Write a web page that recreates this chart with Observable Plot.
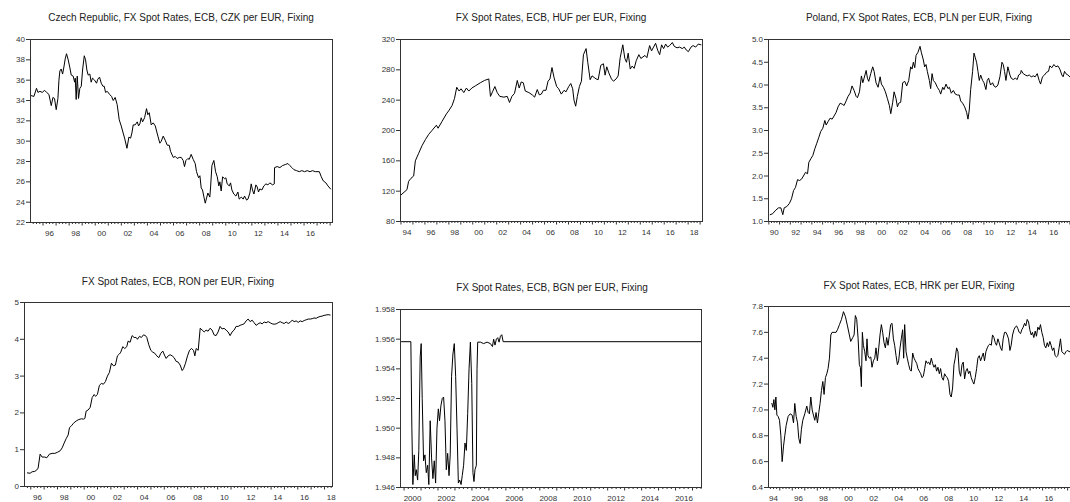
<!DOCTYPE html>
<html><head><meta charset="utf-8">
<script src="https://cdn.jsdelivr.net/npm/d3@7"></script>
<script src="https://cdn.jsdelivr.net/npm/@observablehq/plot@0.6"></script>
<style>
html,body{margin:0;padding:0;background:#fff;overflow:hidden;width:1070px;height:502px;}
#root{position:relative;width:1070px;height:502px;overflow:hidden;font-family:"Liberation Sans",Arial,sans-serif;}
.title{position:absolute;font-size:10px;line-height:12px;color:#222;white-space:nowrap;transform:translateX(-50%);}
</style></head><body><div id="root"></div>
<script>
// ---- Data: [decimal year, rate] ----
const czk = [[1995.04,34.5],[1995.30,34.4],[1995.50,35.2],[1995.61,34.8],[1995.76,34.9],[1995.94,34.8],[1996.12,35.0],[1996.27,34.8],[1996.45,34.6],[1996.63,33.5],[1996.76,34.3],[1996.88,34.2],[1997.01,33.1],[1997.14,34.2],[1997.22,36.0],[1997.29,36.9],[1997.39,37.1],[1997.50,36.6],[1997.60,37.3],[1997.70,38.1],[1997.80,38.6],[1997.93,38.0],[1998.06,37.2],[1998.16,36.5],[1998.31,36.4],[1998.42,35.8],[1998.47,36.2],[1998.54,34.1],[1998.62,36.4],[1998.72,34.2],[1998.82,35.2],[1998.93,35.4],[1999.03,37.0],[1999.16,38.4],[1999.26,38.0],[1999.36,37.0],[1999.46,36.5],[1999.59,36.6],[1999.69,35.8],[1999.79,36.2],[1999.95,36.0],[2000.10,35.7],[2000.20,36.1],[2000.33,36.3],[2000.46,35.7],[2000.59,35.4],[2000.69,35.4],[2000.79,34.8],[2000.92,34.9],[2001.10,34.6],[2001.25,34.4],[2001.38,34.0],[2001.53,34.3],[2001.68,33.6],[2001.84,32.1],[2001.99,31.5],[2002.14,30.8],[2002.25,30.3],[2002.43,29.3],[2002.58,30.4],[2002.71,30.3],[2002.81,30.8],[2002.91,31.6],[2003.06,31.6],[2003.22,31.9],[2003.32,31.5],[2003.42,31.7],[2003.52,32.3],[2003.63,31.9],[2003.78,32.3],[2003.93,33.2],[2004.03,32.6],[2004.14,32.8],[2004.29,31.6],[2004.44,31.8],[2004.60,31.5],[2004.80,30.5],[2004.95,29.8],[2005.06,30.0],[2005.21,30.5],[2005.36,30.1],[2005.52,29.6],[2005.67,29.6],[2005.77,29.0],[2005.98,28.4],[2006.13,28.5],[2006.28,28.3],[2006.44,28.4],[2006.59,28.4],[2006.74,28.1],[2006.84,27.5],[2006.95,28.1],[2007.10,28.3],[2007.20,28.2],[2007.35,28.7],[2007.51,28.2],[2007.66,27.8],[2007.76,27.0],[2007.92,26.4],[2008.02,26.6],[2008.12,25.4],[2008.22,25.2],[2008.33,24.5],[2008.43,23.9],[2008.53,24.4],[2008.63,24.9],[2008.78,24.5],[2008.84,25.5],[2008.94,27.6],[2009.09,28.1],[2009.22,27.0],[2009.35,26.5],[2009.47,25.6],[2009.55,26.0],[2009.65,25.1],[2009.76,26.5],[2009.91,26.3],[2010.01,26.4],[2010.11,25.8],[2010.27,25.6],[2010.37,25.9],[2010.47,25.2],[2010.62,24.8],[2010.78,24.6],[2010.93,25.0],[2011.03,24.3],[2011.19,24.5],[2011.34,24.3],[2011.44,24.6],[2011.60,24.2],[2011.70,24.3],[2011.85,24.9],[2011.95,25.8],[2012.05,25.2],[2012.16,24.8],[2012.31,25.7],[2012.41,25.5],[2012.51,25.0],[2012.61,25.3],[2012.77,25.2],[2012.92,25.6],[2013.08,25.8],[2013.23,25.7],[2013.38,25.9],[2013.59,25.7],[2013.72,25.8],[2013.74,27.4],[2013.94,27.5],[2014.15,27.4],[2014.35,27.6],[2014.56,27.7],[2014.76,27.8],[2014.91,27.6],[2015.07,27.4],[2015.22,27.2],[2015.43,27.1],[2015.63,27.0],[2015.83,27.1],[2016.04,27.0],[2016.24,27.1],[2016.45,27.0],[2016.65,27.1],[2016.86,27.0],[2017.17,27.0],[2017.32,26.5],[2017.47,26.1],[2017.67,25.9],[2017.83,25.6],[2018.03,25.3]];

const huf = [[1994.00,115],[1994.50,122],[1994.64,133],[1994.84,137],[1995.06,140],[1995.20,160],[1995.48,170],[1995.76,180],[1996.04,188],[1996.32,195],[1996.59,200],[1996.96,207],[1997.10,203],[1997.43,212],[1997.80,222],[1997.99,226],[1998.27,233],[1998.47,242],[1998.66,257],[1998.86,252],[1999.02,255],[1999.25,250],[1999.47,256],[1999.67,252],[1999.92,256],[2000.23,259],[2000.64,263],[2000.98,266],[2001.34,268],[2001.48,245],[2001.65,251],[2001.85,258],[2002.04,250],[2002.26,245],[2002.60,244],[2002.88,245],[2003.07,237],[2003.27,245],[2003.49,249],[2003.72,266],[2003.88,256],[2004.05,264],[2004.22,263],[2004.39,252],[2004.69,250],[2004.97,247],[2005.17,244],[2005.39,254],[2005.56,247],[2005.73,248],[2005.90,253],[2006.12,253],[2006.29,265],[2006.45,268],[2006.62,283],[2006.79,270],[2007.01,258],[2007.18,255],[2007.40,248],[2007.63,253],[2007.79,251],[2008.02,258],[2008.19,262],[2008.35,255],[2008.46,240],[2008.60,232],[2008.74,245],[2008.91,258],[2009.08,265],[2009.25,300],[2009.47,308],[2009.61,290],[2009.81,267],[2009.97,272],[2010.14,270],[2010.31,268],[2010.48,267],[2010.70,286],[2010.92,288],[2011.06,273],[2011.20,284],[2011.37,276],[2011.59,268],[2011.76,265],[2011.98,268],[2012.15,272],[2012.32,296],[2012.54,313],[2012.71,295],[2012.85,290],[2012.99,302],[2013.16,281],[2013.32,285],[2013.49,282],[2013.66,292],[2013.88,300],[2014.05,295],[2014.22,297],[2014.39,299],[2014.55,296],[2014.78,312],[2014.94,305],[2015.11,310],[2015.28,315],[2015.45,306],[2015.62,300],[2015.78,313],[2015.95,308],[2016.12,314],[2016.29,310],[2016.45,312],[2016.68,316],[2016.84,311],[2017.07,309],[2017.29,310],[2017.51,308],[2017.68,310],[2017.85,306],[2018.02,304],[2018.24,310],[2018.41,312],[2018.63,310],[2018.85,314],[2019.07,313]];

const pln = [[1990.13,1.15],[1990.35,1.17],[1990.65,1.25],[1990.90,1.30],[1991.12,1.30],[1991.30,1.15],[1991.43,1.30],[1991.68,1.33],[1991.92,1.40],[1992.11,1.50],[1992.30,1.68],[1992.48,1.75],[1992.67,1.92],[1992.85,1.90],[1993.04,1.93],[1993.22,2.00],[1993.41,2.08],[1993.60,2.05],[1993.72,2.30],[1993.91,2.38],[1994.09,2.45],[1994.28,2.60],[1994.46,2.72],[1994.65,2.85],[1994.83,2.98],[1995.02,3.05],[1995.21,3.22],[1995.33,3.12],[1995.52,3.20],[1995.70,3.27],[1995.89,3.25],[1996.07,3.32],[1996.26,3.40],[1996.44,3.52],[1996.63,3.60],[1996.82,3.58],[1997.00,3.55],[1997.19,3.65],[1997.37,3.75],[1997.56,3.82],[1997.74,3.98],[1997.93,3.88],[1998.12,3.75],[1998.24,3.72],[1998.43,3.85],[1998.61,4.20],[1998.74,4.05],[1998.86,4.15],[1999.05,4.32],[1999.17,4.15],[1999.29,4.08],[1999.48,4.25],[1999.66,4.40],[1999.79,4.30],[1999.97,4.05],[2000.16,3.95],[2000.35,4.18],[2000.47,4.02],[2000.66,3.95],[2000.84,3.85],[2001.03,3.70],[2001.21,3.55],[2001.34,3.37],[2001.52,3.62],[2001.65,3.85],[2001.83,3.70],[2001.96,3.52],[2002.08,3.60],[2002.26,3.62],[2002.45,4.05],[2002.64,4.08],[2002.82,3.98],[2003.01,4.10],[2003.19,4.40],[2003.32,4.35],[2003.44,4.50],[2003.57,4.38],[2003.69,4.65],[2003.87,4.72],[2004.06,4.85],[2004.18,4.72],[2004.37,4.55],[2004.49,4.40],[2004.62,4.45],[2004.74,4.30],[2004.93,4.10],[2005.05,3.92],[2005.18,4.25],[2005.30,4.10],[2005.48,4.05],[2005.67,3.95],[2005.86,3.88],[2005.98,3.80],[2006.17,3.95],[2006.29,3.90],[2006.48,4.02],[2006.66,3.92],[2006.79,3.95],[2006.97,3.82],[2007.16,3.88],[2007.34,3.80],[2007.53,3.78],[2007.71,3.78],[2007.84,3.65],[2008.02,3.60],[2008.21,3.52],[2008.39,3.40],[2008.52,3.25],[2008.64,3.45],[2008.77,3.90],[2008.95,4.30],[2009.08,4.70],[2009.20,4.60],[2009.32,4.50],[2009.45,4.30],[2009.57,4.10],[2009.70,4.22],[2009.88,4.10],[2010.01,4.05],[2010.19,3.90],[2010.31,4.10],[2010.44,4.15],[2010.62,4.00],[2010.81,4.05],[2010.93,3.98],[2011.12,3.95],[2011.30,4.00],[2011.49,4.18],[2011.68,4.50],[2011.80,4.45],[2011.92,4.30],[2012.05,4.10],[2012.23,4.40],[2012.42,4.22],[2012.54,4.15],[2012.73,4.12],[2012.92,4.15],[2013.10,4.12],[2013.23,4.22],[2013.41,4.25],[2013.47,4.32],[2013.66,4.25],[2013.84,4.22],[2014.03,4.20],[2014.22,4.22],[2014.40,4.18],[2014.59,4.20],[2014.77,4.18],[2014.96,4.25],[2015.14,4.10],[2015.27,4.02],[2015.45,4.18],[2015.64,4.22],[2015.83,4.28],[2016.01,4.30],[2016.13,4.42],[2016.32,4.38],[2016.51,4.45],[2016.69,4.40],[2016.88,4.42],[2017.06,4.35],[2017.25,4.22],[2017.37,4.18],[2017.50,4.30],[2017.62,4.25],[2017.81,4.22],[2017.99,4.18]];

const ron = [[1995.75,0.37],[1995.95,0.36],[1996.10,0.40],[1996.30,0.41],[1996.45,0.45],[1996.55,0.50],[1996.70,0.88],[1996.85,0.80],[1997.05,0.80],[1997.20,0.78],[1997.40,0.88],[1997.60,0.90],[1997.80,0.90],[1998.00,0.93],[1998.20,0.97],[1998.35,1.05],[1998.50,1.18],[1998.65,1.30],[1998.80,1.40],[1998.90,1.60],[1999.05,1.65],[1999.20,1.72],[1999.40,1.78],[1999.60,1.82],[1999.80,1.84],[1999.95,1.83],[2000.05,1.85],[2000.15,2.05],[2000.30,2.08],[2000.45,2.15],[2000.60,2.42],[2000.75,2.50],[2000.85,2.45],[2000.99,2.50],[2001.14,2.75],[2001.29,2.80],[2001.44,2.78],[2001.59,2.85],[2001.74,3.00],[2001.89,3.10],[2002.04,3.35],[2002.19,3.28],[2002.34,3.30],[2002.49,3.55],[2002.64,3.60],[2002.74,3.65],[2002.89,3.80],[2003.04,3.75],[2003.19,3.80],[2003.29,3.95],[2003.44,3.92],[2003.59,4.10],[2003.74,4.05],[2003.89,4.05],[2003.99,4.00],[2004.14,4.08],[2004.29,4.05],[2004.44,4.12],[2004.59,4.10],[2004.69,4.05],[2004.84,3.85],[2004.99,3.70],[2005.14,3.65],[2005.29,3.62],[2005.44,3.55],[2005.59,3.50],[2005.74,3.62],[2005.89,3.68],[2006.04,3.55],[2006.14,3.48],[2006.29,3.55],[2006.44,3.58],[2006.59,3.55],[2006.74,3.50],[2006.89,3.40],[2007.04,3.38],[2007.19,3.30],[2007.34,3.15],[2007.44,3.20],[2007.59,3.35],[2007.74,3.55],[2007.89,3.70],[2008.04,3.75],[2008.19,3.70],[2008.29,3.55],[2008.39,3.75],[2008.54,3.70],[2008.69,4.30],[2008.84,4.25],[2008.99,4.20],[2009.13,4.25],[2009.28,4.22],[2009.43,4.30],[2009.58,4.25],[2009.73,4.12],[2009.88,4.10],[2010.03,4.20],[2010.18,4.35],[2010.33,4.28],[2010.48,4.30],[2010.63,4.25],[2010.78,4.20],[2010.93,4.10],[2011.08,4.20],[2011.23,4.25],[2011.38,4.35],[2011.53,4.35],[2011.68,4.38],[2011.83,4.40],[2011.98,4.42],[2012.13,4.50],[2012.28,4.55],[2012.43,4.48],[2012.58,4.52],[2012.73,4.45],[2012.88,4.38],[2013.03,4.42],[2013.18,4.45],[2013.33,4.42],[2013.48,4.47],[2013.63,4.45],[2013.78,4.48],[2013.93,4.45],[2014.08,4.42],[2014.23,4.41],[2014.38,4.42],[2014.53,4.45],[2014.68,4.48],[2014.83,4.45],[2014.98,4.43],[2015.13,4.47],[2015.28,4.43],[2015.43,4.46],[2015.58,4.52],[2015.73,4.48],[2015.88,4.50],[2016.03,4.46],[2016.18,4.50],[2016.33,4.48],[2016.48,4.51],[2016.63,4.53],[2016.78,4.55],[2016.93,4.55],[2017.08,4.56],[2017.22,4.58],[2017.37,4.57],[2017.52,4.60],[2017.67,4.62],[2017.82,4.63],[2017.97,4.65],[2018.12,4.66],[2018.27,4.67],[2018.42,4.66]];

const bgn = [[1999.85,1.95583],[2000.40,1.95583],[2000.46,1.9500],[2000.52,1.9462],[2000.60,1.9482],[2000.66,1.9468],[2000.72,1.9472],[2000.80,1.9465],[2000.87,1.9485],[2000.95,1.9548],[2001.01,1.9557],[2001.07,1.9520],[2001.15,1.9478],[2001.23,1.9482],[2001.31,1.9470],[2001.39,1.9475],[2001.46,1.9462],[2001.54,1.9505],[2001.62,1.9480],[2001.70,1.9466],[2001.78,1.9478],[2001.86,1.9463],[2001.94,1.9500],[2002.02,1.9513],[2002.09,1.9505],[2002.17,1.9515],[2002.25,1.9520],[2002.33,1.9521],[2002.41,1.9505],[2002.49,1.9472],[2002.57,1.9483],[2002.65,1.9468],[2002.72,1.9482],[2002.80,1.9535],[2002.88,1.9550],[2002.96,1.9557],[2003.04,1.9535],[2003.12,1.9500],[2003.20,1.9463],[2003.28,1.9465],[2003.36,1.9462],[2003.43,1.9468],[2003.51,1.9475],[2003.59,1.9490],[2003.67,1.9485],[2003.75,1.9510],[2003.83,1.9540],[2003.91,1.9558],[2003.99,1.9530],[2004.06,1.9470],[2004.12,1.9464],[2004.18,1.9472],[2004.26,1.9475],[2004.30,1.9540],[2004.34,1.9558],[2004.50,1.9558],[2004.69,1.9557],[2004.89,1.9558],[2005.09,1.9557],[2005.21,1.9555],[2005.28,1.9560],[2005.36,1.9556],[2005.44,1.9560],[2005.52,1.9561],[2005.60,1.9558],[2005.68,1.9562],[2005.76,1.9563],[2005.84,1.95583],[2006.07,1.95583],[2017.49,1.95583]];

const hrk = [[1994.37,7.05],[1994.45,7.02],[1994.53,7.08],[1994.61,7.00],[1994.69,7.10],[1994.77,6.96],[1994.87,6.95],[1994.98,6.92],[1995.09,6.80],[1995.19,6.60],[1995.30,6.72],[1995.40,6.80],[1995.51,6.88],[1995.67,6.95],[1995.83,6.97],[1995.99,6.96],[1996.10,6.90],[1996.20,7.05],[1996.31,6.95],[1996.42,6.90],[1996.52,6.78],[1996.63,6.74],[1996.73,6.85],[1996.84,6.92],[1997.00,6.97],[1997.16,7.03],[1997.27,6.98],[1997.37,6.97],[1997.48,7.10],[1997.59,7.00],[1997.69,6.96],[1997.80,6.92],[1997.90,6.98],[1998.01,6.90],[1998.12,6.98],[1998.22,7.05],[1998.33,7.15],[1998.44,7.22],[1998.54,7.12],[1998.65,7.25],[1998.76,7.28],[1998.86,7.32],[1998.97,7.40],[1999.08,7.58],[1999.18,7.60],[1999.34,7.60],[1999.50,7.60],[1999.61,7.62],[1999.77,7.66],[1999.93,7.70],[2000.09,7.76],[2000.25,7.72],[2000.41,7.65],[2000.56,7.58],[2000.67,7.53],[2000.83,7.56],[2000.94,7.58],[2001.04,7.73],[2001.15,7.70],[2001.26,7.55],[2001.36,7.35],[2001.44,7.33],[2001.52,7.18],[2001.60,7.60],[2001.68,7.50],[2001.79,7.45],[2001.89,7.38],[2001.97,7.55],[2002.05,7.42],[2002.16,7.40],[2002.27,7.41],[2002.37,7.33],[2002.48,7.38],[2002.59,7.40],[2002.69,7.48],[2002.80,7.38],[2002.91,7.48],[2003.01,7.58],[2003.12,7.66],[2003.22,7.60],[2003.33,7.52],[2003.44,7.48],[2003.54,7.56],[2003.65,7.50],[2003.76,7.58],[2003.86,7.66],[2003.97,7.67],[2004.08,7.55],[2004.18,7.50],[2004.29,7.42],[2004.40,7.35],[2004.50,7.38],[2004.61,7.48],[2004.71,7.55],[2004.82,7.62],[2004.90,7.40],[2004.98,7.66],[2005.09,7.45],[2005.19,7.40],[2005.30,7.35],[2005.41,7.31],[2005.51,7.30],[2005.62,7.44],[2005.73,7.40],[2005.83,7.38],[2005.94,7.36],[2006.04,7.32],[2006.15,7.30],[2006.26,7.28],[2006.36,7.25],[2006.47,7.26],[2006.58,7.32],[2006.68,7.38],[2006.79,7.36],[2006.90,7.37],[2007.00,7.35],[2007.11,7.40],[2007.21,7.36],[2007.32,7.33],[2007.43,7.35],[2007.53,7.30],[2007.64,7.33],[2007.75,7.28],[2007.85,7.32],[2007.96,7.25],[2008.07,7.23],[2008.17,7.28],[2008.28,7.26],[2008.39,7.25],[2008.49,7.22],[2008.60,7.12],[2008.70,7.10],[2008.81,7.17],[2008.92,7.35],[2009.02,7.40],[2009.13,7.48],[2009.24,7.45],[2009.34,7.30],[2009.45,7.26],[2009.56,7.35],[2009.66,7.37],[2009.77,7.24],[2009.87,7.30],[2009.98,7.32],[2010.09,7.28],[2010.19,7.30],[2010.30,7.25],[2010.41,7.22],[2010.51,7.20],[2010.62,7.25],[2010.73,7.32],[2010.83,7.40],[2010.94,7.42],[2011.05,7.38],[2011.15,7.41],[2011.26,7.44],[2011.36,7.38],[2011.47,7.45],[2011.58,7.48],[2011.68,7.50],[2011.79,7.51],[2011.90,7.50],[2012.00,7.58],[2012.11,7.56],[2012.22,7.52],[2012.32,7.50],[2012.43,7.55],[2012.53,7.52],[2012.64,7.48],[2012.75,7.46],[2012.85,7.55],[2012.96,7.60],[2013.07,7.60],[2013.17,7.58],[2013.28,7.55],[2013.39,7.46],[2013.49,7.50],[2013.60,7.58],[2013.71,7.62],[2013.81,7.64],[2013.92,7.65],[2014.02,7.63],[2014.13,7.60],[2014.24,7.59],[2014.34,7.62],[2014.45,7.64],[2014.56,7.67],[2014.66,7.65],[2014.77,7.70],[2014.88,7.68],[2014.98,7.62],[2015.09,7.58],[2015.19,7.60],[2015.30,7.56],[2015.41,7.61],[2015.51,7.57],[2015.62,7.64],[2015.73,7.62],[2015.83,7.66],[2015.94,7.60],[2016.05,7.56],[2016.15,7.50],[2016.26,7.48],[2016.37,7.52],[2016.47,7.49],[2016.58,7.53],[2016.68,7.50],[2016.79,7.46],[2016.90,7.48],[2017.00,7.42],[2017.11,7.41],[2017.22,7.42],[2017.32,7.48],[2017.43,7.55],[2017.54,7.45],[2017.64,7.44],[2017.75,7.43],[2017.86,7.45],[2017.96,7.46],[2018.17,7.45]];

// ---- Tick values and labels ----
const czkYTicks = [22,24,26,28,30,32,34,36,38,40];
const hufYTicks = [80,120,160,200,240,280,320];
const plnYTicks = [1.0,1.5,2.0,2.5,3.0,3.5,4.0,4.5,5.0];
const ronYTicks = [0,1,2,3,4,5];
const bgnYTicks = [1.946,1.948,1.950,1.952,1.954,1.956,1.958];
const hrkYTicks = [6.4,6.6,6.8,7.0,7.2,7.4,7.6,7.8];

const czkYears = [1996,1998,2000,2002,2004,2006,2008,2010,2012,2014,2016];
const hufYears = [1994,1996,1998,2000,2002,2004,2006,2008,2010,2012,2014,2016,2018];
const plnYears = [1990,1992,1994,1996,1998,2000,2002,2004,2006,2008,2010,2012,2014,2016];
const ronYears = [1996,1998,2000,2002,2004,2006,2008,2010,2012,2014,2016,2018];
const bgnYears = [2000,2002,2004,2006,2008,2010,2012,2014,2016];
const hrkYears = [1994,1996,1998,2000,2002,2004,2006,2008,2010,2012,2014,2016,2018];

const titles = [
  "Czech Republic, FX Spot Rates, ECB, CZK per EUR, Fixing",
  "FX Spot Rates, ECB, HUF per EUR, Fixing",
  "Poland, FX Spot Rates, ECB, PLN per EUR, Fixing",
  "FX Spot Rates, ECB, RON per EUR, Fixing",
  "FX Spot Rates, ECB, BGN per EUR, Fixing",
  "FX Spot Rates, ECB, HRK per EUR, Fixing"
];

const yy = d => String(Math.floor(d) % 100).padStart(2, "0");
const yyyy = d => String(Math.floor(d));

const panels = [
  {series: czk, fl: 30, fr: 332, ft: 39, fb: 222, x: [1995.04, 2018.18], y: [22, 40], yTicks: czkYTicks, yFmt: d => String(d), years: czkYears, xFmt: yy, title: titles[0], tx: 181, ty: 18},
  {series: huf, fl: 400, fr: 702, ft: 39, fb: 221, x: [1993.96, 2019.2], y: [80, 320], yTicks: hufYTicks, yFmt: d => String(d), years: hufYears, xFmt: yy, title: titles[1], tx: 551, ty: 18},
  {series: pln, fl: 768, fr: 1072, ft: 39, fb: 221, x: [1989.97, 2018.24], y: [1, 5], yTicks: plnYTicks, yFmt: d => d.toFixed(1), years: plnYears, xFmt: yy, title: titles[2], tx: 919, ty: 18},
  {series: ron, fl: 24, fr: 332, ft: 302, fb: 486, x: [1995.53, 2018.6], y: [0, 5], yTicks: ronYTicks, yFmt: d => String(d), years: ronYears, xFmt: yy, title: titles[3], tx: 178, ty: 282},
  {series: bgn, fl: 400, fr: 701, ft: 309, fb: 487, x: [1999.79, 2017.53], y: [1.946, 1.958], yTicks: bgnYTicks, yFmt: d => d.toFixed(3), years: bgnYears, xFmt: yyyy, title: titles[4], tx: 552, ty: 288},
  {series: hrk, fl: 768, fr: 1072, ft: 306, fb: 487, x: [1994.10, 2018.39], y: [6.4, 7.8], yTicks: hrkYTicks, yFmt: d => d.toFixed(1), years: hrkYears, xFmt: yy, title: titles[5], tx: 919, ty: 286}
];

const root = document.getElementById("root");
const ML = 36, MR = 8, MT = 6, MB = 24;

for (const p of panels) {
  const [x0, x1] = p.x;
  const quarters = d3.range(Math.ceil(x0 * 4), Math.floor(x1 * 4) + 1).map(q => q / 4).filter(q => q % 1 !== 0);
  const yearTicks = d3.range(Math.ceil(x0), Math.floor(x1) + 1);
  const labelAt = p.years.map(y => y + 0.5);
  const data = p.series.map(([t, v]) => ({t, v}));
  const W = p.fr - p.fl, H = p.fb - p.ft;
  const svg = Plot.plot({
    width: W + ML + MR, height: H + MT + MB,
    marginLeft: ML, marginRight: MR, marginTop: MT, marginBottom: MB,
    style: {fontFamily: "'Liberation Sans', Arial, sans-serif", fontSize: "8px", color: "#333", background: "transparent", overflow: "visible"},
    x: {domain: p.x, label: null},
    y: {domain: p.y, label: null},
    marks: [
      Plot.axisY(p.yTicks, {tickSize: 4, tickPadding: 1.5, tickFormat: p.yFmt, label: null}),
      Plot.axisX(quarters, {tickSize: 2, tickFormat: () => "", label: null}),
      Plot.axisX(yearTicks, {tickSize: 3.5, tickFormat: () => "", label: null}),
      Plot.axisX(labelAt, {tickSize: 0, tickPadding: 8, tickFormat: p.xFmt, label: null}),
      Plot.line(data, {x: "t", y: "v", stroke: "#000", strokeWidth: 1, clip: true}),
      Plot.frame({stroke: "#333"})
    ]
  });
  svg.style.position = "absolute";
  svg.style.left = (p.fl - ML) + "px";
  svg.style.top = (p.ft - MT) + "px";
  root.appendChild(svg);
  const t = document.createElement("div");
  t.className = "title";
  t.textContent = p.title;
  t.style.left = p.tx + "px";
  t.style.top = (p.ty - 6) + "px";
  root.appendChild(t);
}
</script></body></html>
